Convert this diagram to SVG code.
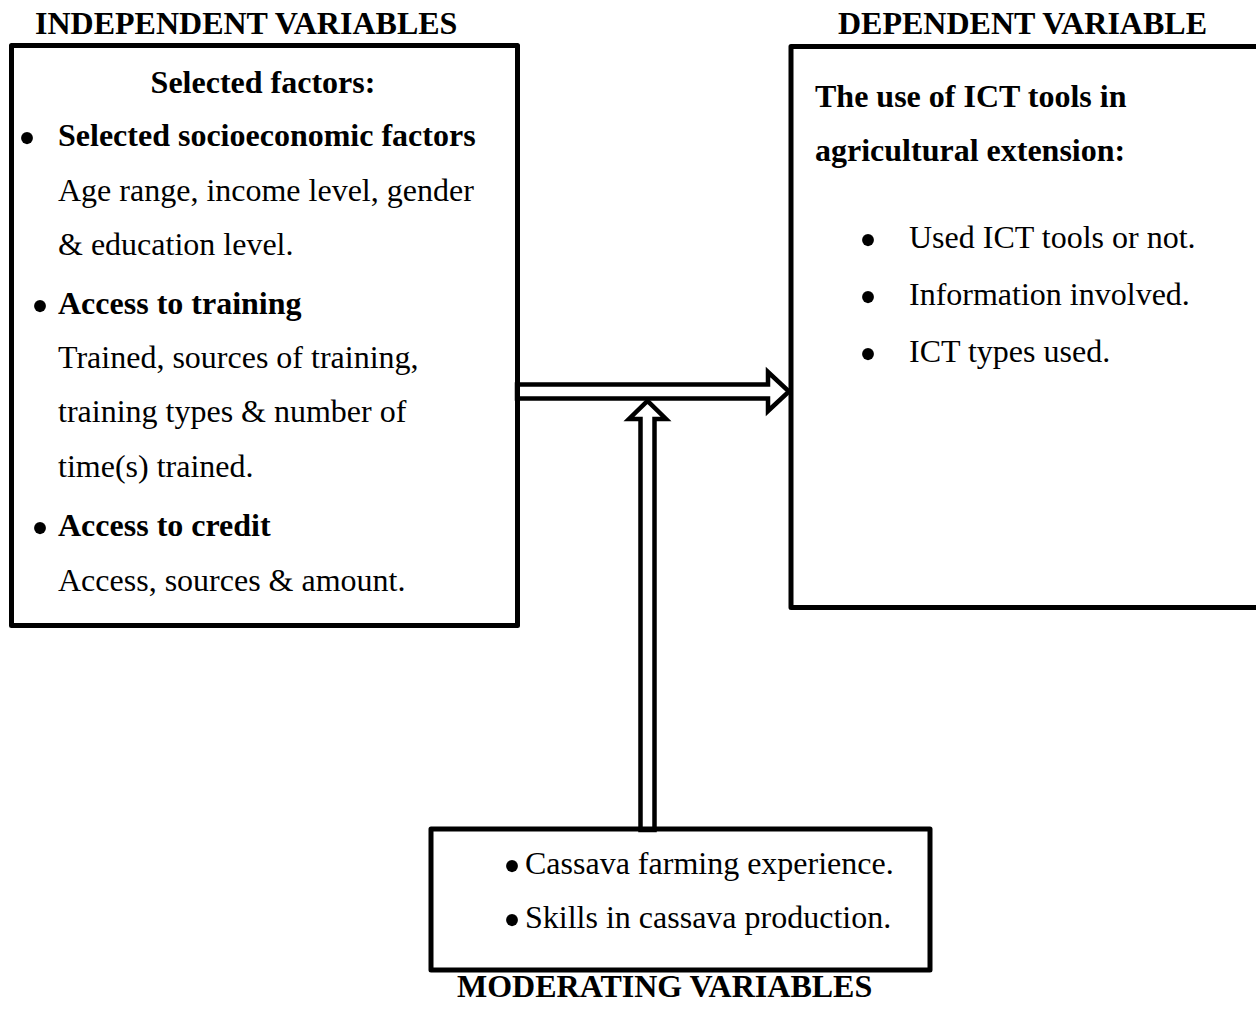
<svg xmlns="http://www.w3.org/2000/svg" width="1256" height="1018" viewBox="0 0 1256 1018">
<style>
text{font-family:"Liberation Serif","Times New Roman",serif;font-size:32px;fill:#000}
.b{font-weight:bold}
.m{text-anchor:middle}
.bul{text-anchor:middle;font-size:50px}
.box{fill:none;stroke:#000;stroke-width:5;stroke-linejoin:round}
.arr{fill:#fff;stroke:#000;stroke-width:4.5;stroke-linejoin:miter}
</style>
<rect width="1256" height="1018" fill="#fff"/>
<g id="connectors">
<polygon class="arr" points="517,384.5 768,384.5 768,372 789,391.5 768,411 768,398.5 517,398.5"/>
<polygon class="arr" points="640.5,830 640.5,419 629,419 647.5,401 666,419 654.5,419 654.5,830"/>
</g>
<g id="independent">
<text class="b" x="35" y="34">INDEPENDENT VARIABLES</text>
<rect class="box" x="11.5" y="45.5" width="506" height="580"/>
<text class="b m" x="263" y="93">Selected factors:</text>
<text class="bul" x="27" y="155">•</text>
<text class="b" x="58" y="146">Selected socioeconomic factors</text>
<text x="58" y="201">Age range, income level, gender</text>
<text x="58" y="255">&amp; education level.</text>
<text class="bul" x="40" y="323">•</text>
<text class="b" x="58" y="314">Access to training</text>
<text x="58" y="368">Trained, sources of training,</text>
<text x="58" y="422">training types &amp; number of</text>
<text x="58" y="477">time(s) trained.</text>
<text class="bul" x="40" y="545">•</text>
<text class="b" x="58" y="536">Access to credit</text>
<text x="58" y="591">Access, sources &amp; amount.</text>
</g>
<g id="dependent">
<text class="b" x="838" y="34">DEPENDENT VARIABLE</text>
<rect class="box" x="791" y="46.5" width="480" height="561"/>
<text class="b" x="815" y="107">The use of ICT tools in</text>
<text class="b" x="815" y="161">agricultural extension:</text>
<text class="bul" x="868" y="257">•</text>
<text x="909" y="248">Used ICT tools or not.</text>
<text class="bul" x="868" y="314">•</text>
<text x="909" y="305">Information involved.</text>
<text class="bul" x="868" y="371">•</text>
<text x="909" y="362">ICT types used.</text>
</g>
<g id="moderating">
<rect class="box" x="431" y="829" width="499" height="141"/>
<text class="bul" x="512" y="883">•</text>
<text x="525" y="874">Cassava farming experience.</text>
<text class="bul" x="512" y="937">•</text>
<text x="525" y="928">Skills in cassava production.</text>
<text class="b" x="457" y="997">MODERATING VARIABLES</text>
</g>
</svg>
